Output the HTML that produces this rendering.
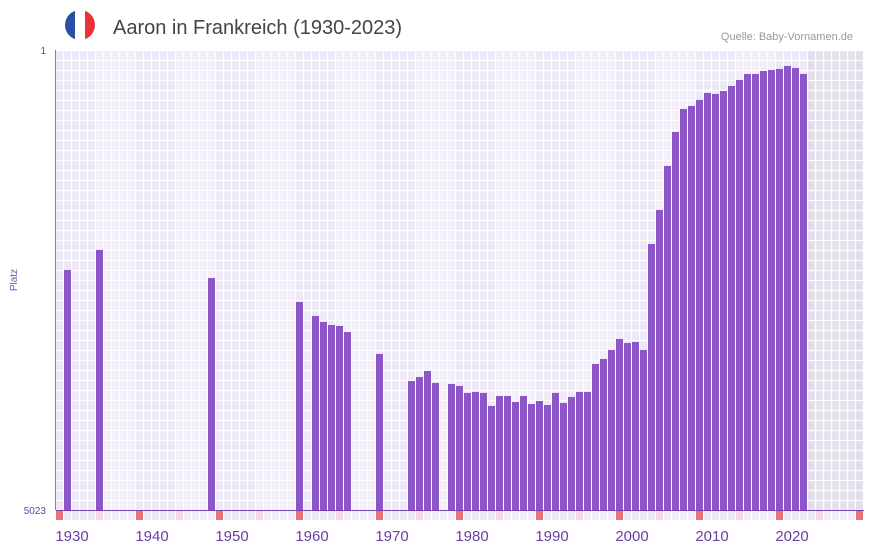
<!DOCTYPE html>
<html><head><meta charset="utf-8"><style>
body{margin:0;background:#fff;font-family:"Liberation Sans",sans-serif}
svg{display:block}
</style></head><body>
<svg id="c" width="873" height="552">
<g>
<clipPath id="fc"><circle cx="80" cy="25" r="15"/></clipPath>
<g clip-path="url(#fc)"><rect x="65" y="10" width="10" height="30" fill="#2b4fa3"/><rect x="75" y="10" width="10" height="30" fill="#fff"/><rect x="85" y="10" width="10" height="30" fill="#e8323c"/></g>
</g>
<text x="113" y="34" font-size="20" fill="#444">Aaron in Frankreich (1930-2023)</text>
<text x="853" y="40" font-size="11" fill="#999" text-anchor="end">Quelle: Baby-Vornamen.de</text>
<text transform="translate(17,280) rotate(-90)" font-size="10" fill="#7a4bb5" text-anchor="middle">Platz</text>
<g id="grid"></g>
<g id="bars"></g>
<g id="axis"></g>
</svg>
<script>
const years=[1930,1934,1948,1959,1961,1962,1963,1964,1965,1969,1973,1974,1975,1976,1978,1979,1980,1981,1982,1983,1984,1985,1986,1987,1988,1989,1990,1991,1992,1993,1994,1995,1996,1997,1998,1999,2000,2001,2002,2003,2004,2005,2006,2007,2008,2009,2010,2011,2012,2013,2014,2015,2016,2017,2018,2019,2020,2021,2022];
const ranks=[2403,2184,2490,2752,2905,2970,3003,3014,3080,3320,3615,3571,3505,3636,3647,3669,3745,3734,3745,3887,3778,3778,3844,3778,3866,3833,3877,3745,3855,3789,3734,3734,3429,3374,3276,3156,3200,3189,3276,2119,1748,1267,896,645,612,547,470,481,449,394,328,263,263,230,219,208,175,197,263];
const yTicks=[1,5023];
const xTicks=[1930,1940,1950,1960,1970,1980,1990,2000,2010,2020];
const firstYear=1929,lastYear=2029,shadeFrom=2023;
const L=56,T=50,B=510,CW=8;
const R=L+(lastYear-firstYear+1)*CW;
const x=y=>L+(y-firstYear)*CW;
const yS=r=>T+(r-1)/(5023-1)*(B-T);
const NS='http://www.w3.org/2000/svg';
function mk(p,t,a){const e=document.createElementNS(NS,t);for(const k in a)e.setAttribute(k,a[k]);p.appendChild(e);return e;}
const g=document.getElementById('grid'),b=document.getElementById('bars'),ax=document.getElementById('axis');
for(let yr=firstYear;yr<=lastYear;yr++){
  const i=yr-firstYear;
  const shade=yr>=shadeFrom;
  const col=shade?(Math.floor(i/5)%2?'#e5e1ed':'#e2deeb'):(Math.floor(i/5)%2?'#f2eefa':'#ede8f8');
  const r=mk(g,'rect',{x:x(yr),y:T,width:CW,height:B-T,fill:col});
  
  
  const mc=i%10===0?'#e57377':(i%5===0?'#f6d6e0':(Math.floor(i/5)%2?'#f2eefa':'#ede8f8'));
  const m=mk(ax,'rect',{x:x(yr),y:B,width:CW-1,height:10,fill:mc});
  
  
}
for(let xx=L;xx<=R;xx+=CW){mk(g,'line',{x1:xx+7.5,y1:T,x2:xx+7.5,y2:B,stroke:'#fff','stroke-width':1.2});}
for(let yy=T;yy<=B;yy+=10){mk(g,'line',{x1:L,y1:yy+0.5,x2:R,y2:yy+0.5,stroke:'#fff','stroke-width':1.2});}
years.forEach((yr,i)=>{
  const top=yS(ranks[i]);
  const r=mk(b,'rect',{x:x(yr),y:top,width:CW-1,height:B-top,fill:'#8e55c8'});
  
  
});
mk(ax,'line',{x1:L,y1:B+0.5,x2:R,y2:B+0.5,stroke:'#7a3fb0','stroke-width':1});
mk(ax,'line',{x1:L-0.5,y1:T,x2:L-0.5,y2:B,stroke:'#9a70c8','stroke-width':1});
xTicks.forEach(t=>{
  const e=mk(ax,'text',{x:x(t)+8,y:541,'font-size':15,fill:'#6a3fa0','text-anchor':'middle'});
  e.textContent=t;
  
  
});
yTicks.forEach(t=>{
  const e=mk(ax,'text',{x:46,y:yS(t)+4,'font-size':10,fill:'#6a3fa0','text-anchor':'end'});
  e.textContent=t;
  
  
});
</script>
</body></html>
